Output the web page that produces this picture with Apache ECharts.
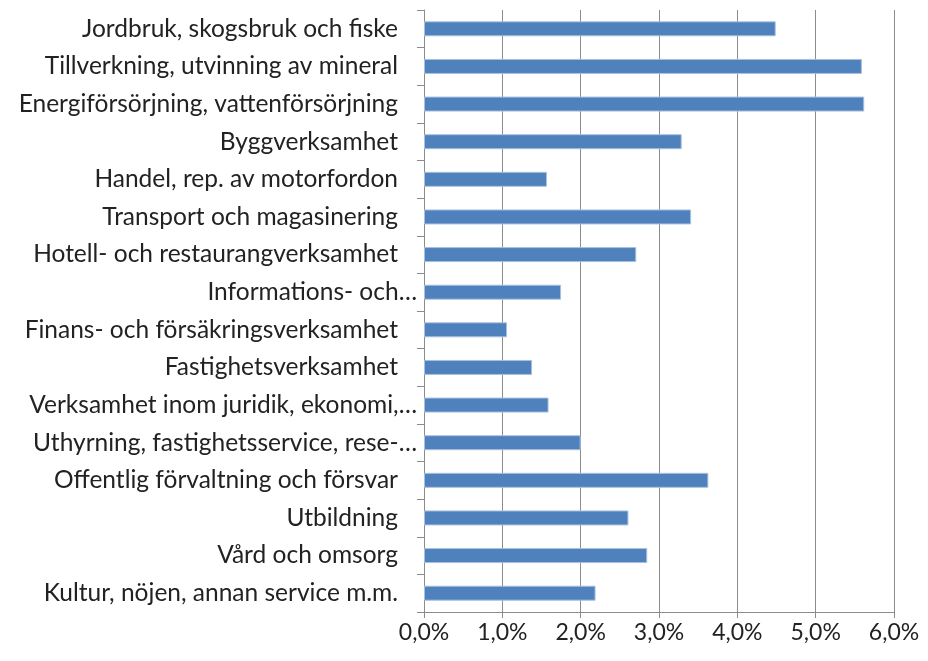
<!DOCTYPE html>
<html>
<head>
<meta charset="utf-8">
<script src="https://cdn.jsdelivr.net/npm/echarts@6/dist/echarts.min.js"></script>
<style>
  html, body { margin: 0; padding: 0; background: #fff; }
  #chart { width: 928px; height: 661px; }
</style>
</head>
<body>
<div id="chart"></div>
<script>
// Branscher (uppifrån och ned)
const categories = [
  "Jordbruk, skogsbruk och fiske",
  "Tillverkning, utvinning av mineral",
  "Energiförsörjning, vattenförsörjning",
  "Byggverksamhet",
  "Handel, rep. av motorfordon",
  "Transport och magasinering",
  "Hotell- och restaurangverksamhet",
  "Informations- och…",
  "Finans- och försäkringsverksamhet",
  "Fastighetsverksamhet",
  "Verksamhet inom juridik, ekonomi,…",
  "Uthyrning, fastighetsservice, rese-…",
  "Offentlig förvaltning och försvar",
  "Utbildning",
  "Vård och omsorg",
  "Kultur, nöjen, annan service m.m."
]

// Andel i procent
const values = [4.49, 5.59, 5.62, 3.29, 1.57, 3.41, 2.71, 1.75, 1.06, 1.38, 1.59, 2.0, 3.63, 2.61, 2.85, 2.19]

const xTicks = [0, 1, 2, 3, 4, 5, 6]

const chart = echarts.init(document.getElementById("chart"))

const font = "Lato"
const gray = "#8c8c8c"

chart.setOption({
  animation: false,
  grid: { left: 424, right: 34, top: 10, bottom: 49, containLabel: false },
  xAxis: {
    type: "value",
    min: xTicks[0],
    max: xTicks[xTicks.length - 1],
    interval: 1,
    axisLine: { show: true, lineStyle: { color: gray, width: 1 } },
    axisTick: { show: true, length: 6, lineStyle: { color: gray } },
    splitLine: { show: true, lineStyle: { color: gray, width: 1 } },
    axisLabel: {
      margin: 9,
      fontFamily: font,
      fontSize: 23,
      color: "#222",
      formatter: (v) => v.toFixed(1).replace(".", ",") + "%"
    }
  },
  yAxis: {
    type: "category",
    inverse: true,
    data: categories,
    axisLine: { show: true, lineStyle: { color: gray, width: 1 } },
    axisTick: { show: true, length: 7, lineStyle: { color: gray } },
    axisLabel: {
      margin: 7,
      fontFamily: font,
      fontSize: 24.5,
      color: "#222",
      formatter: (name) => name.endsWith("…") ? name : "{p|" + name + "}",
      rich: {
        p: { fontFamily: font, fontSize: 24.5, color: "#222", padding: [0, 19, 0, 0] }
      }
    }
  },
  series: [
    {
      type: "bar",
      data: values,
      barWidth: 15,
      itemStyle: { color: "#4f81bd", borderColor: "#a9c1e0", borderWidth: 1 }
    }
  ]
})
</script>
</body>
</html>
